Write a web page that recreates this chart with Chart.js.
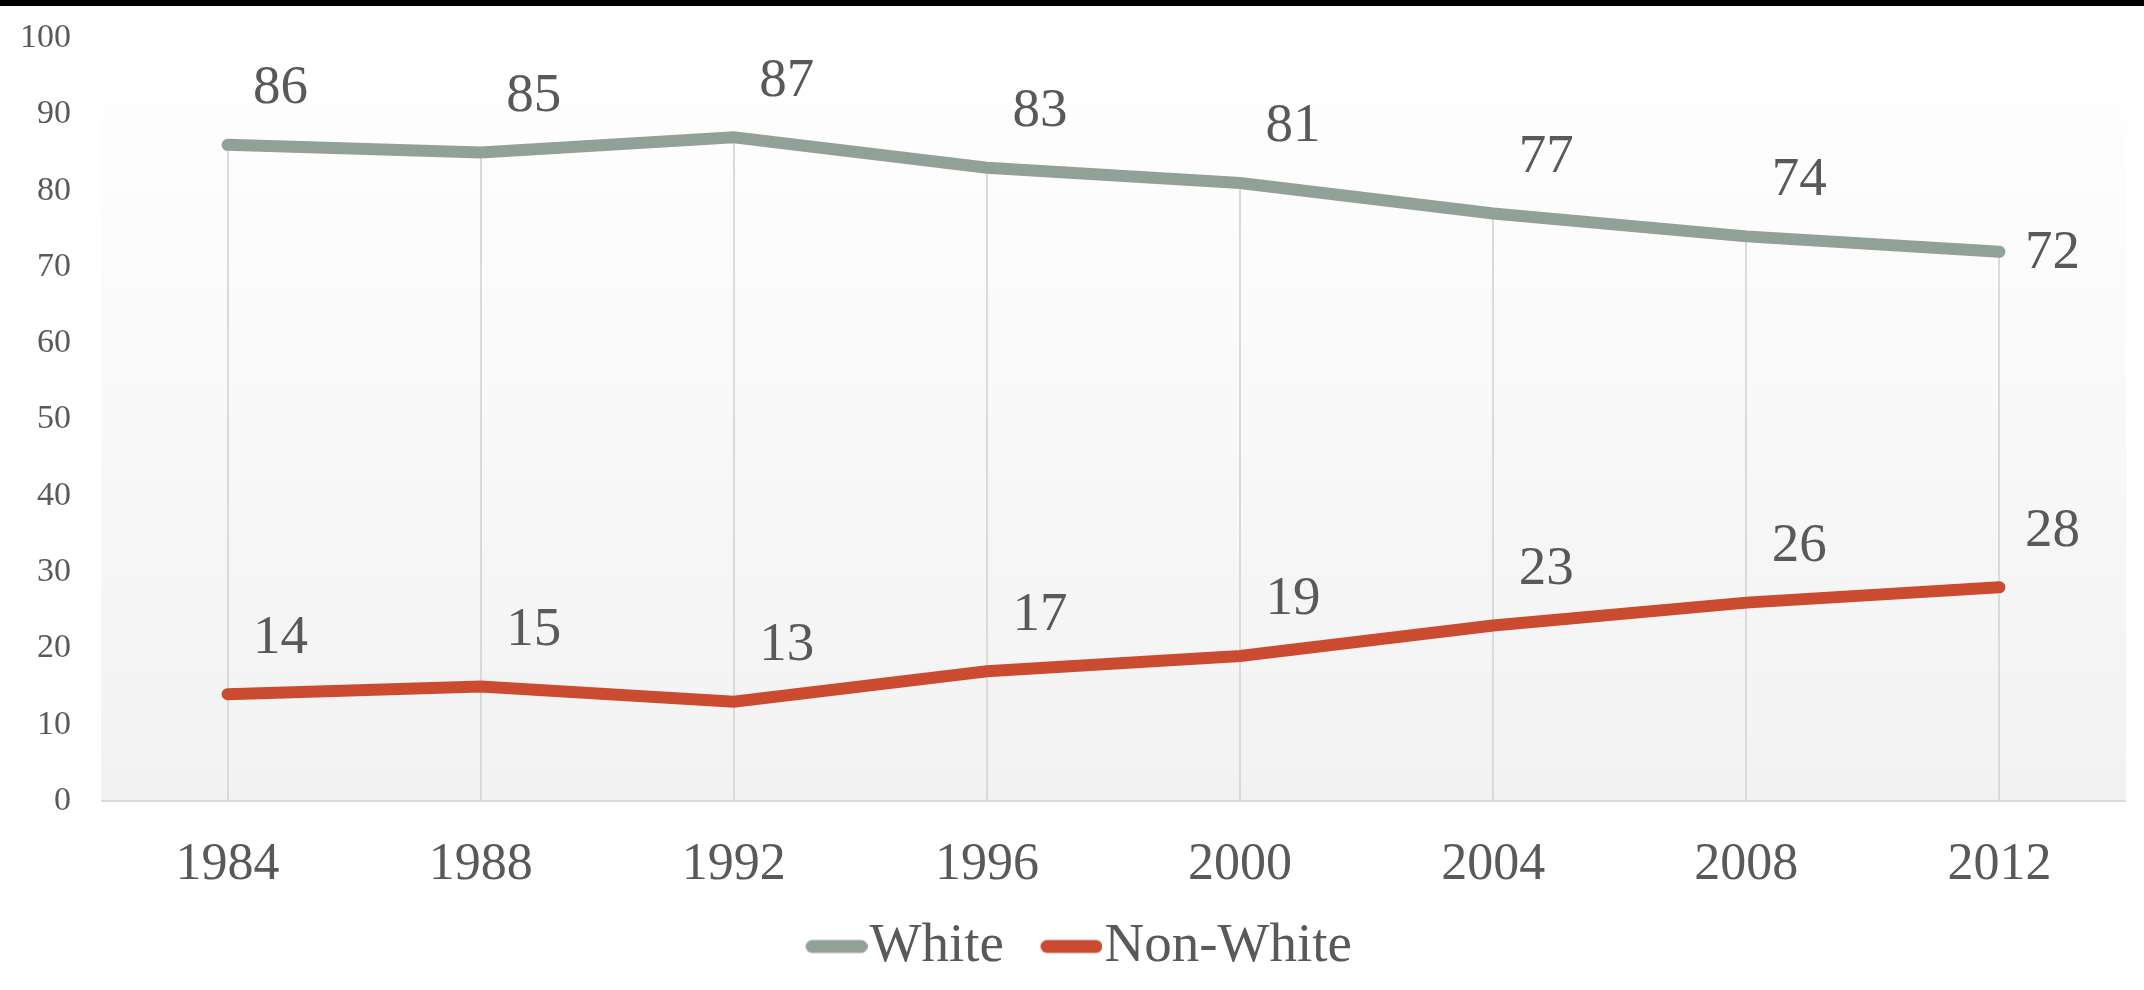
<!DOCTYPE html>
<html>
<head>
<meta charset="utf-8">
<script src="https://cdn.jsdelivr.net/npm/chart.js@4/dist/chart.umd.min.js"></script>
<style>
  html, body { margin: 0; padding: 0; background: #fff; }
  #wrap { position: relative; width: 2144px; height: 990px; }
  #topbar { position: absolute; left: 0; top: 0; width: 2144px; height: 6px; background: #000; }
</style>
</head>
<body>
<div id="wrap">
  <canvas id="chart1" width="2144" height="990"></canvas>
  <div id="topbar"></div>
</div>
<script>
// data
var years = ["1984", "1988", "1992", "1996", "2000", "2004", "2008", "2012"];
var whiteShare = [86, 85, 87, 83, 81, 77, 74, 72];
var nonWhiteShare = [14, 15, 13, 17, 19, 23, 26, 28];
var seriesNames = ["White", "Non-White"];
var yTicks = [0, 10, 20, 30, 40, 50, 60, 70, 80, 90, 100];

var whiteColor = "#91a197";
var redColor = "#cb4b30";
var textColor = "#595959";
var fontName = "'Liberation Serif', 'DejaVu Serif', serif";

// line swatch for the legend (transparent strip on the left to nudge it)
function legendSwatch(color) {
  var c = document.createElement("canvas");
  c.width = 98; c.height = 16;
  var g = c.getContext("2d");
  g.strokeStyle = color;
  g.lineWidth = 13;
  g.lineCap = "round";
  g.beginPath();
  g.moveTo(42.5, 8);
  g.lineTo(91.5, 8);
  g.stroke();
  return c;
}

// grey gradient behind the plot + drop lines
var backPlugin = {
  id: "backPlugin",
  beforeDatasetsDraw: function(chart) {
    var ctx = chart.ctx, a = chart.chartArea;
    var xs = chart.scales.x, ys = chart.scales.y;
    ctx.save();
    var grad = ctx.createLinearGradient(0, a.top, 0, a.bottom);
    grad.addColorStop(0, "#ffffff");
    grad.addColorStop(1, "#f2f2f2");
    ctx.fillStyle = grad;
    ctx.fillRect(a.left, a.top, a.right - a.left, a.bottom - a.top);
    // drop lines from the top series down to the axis
    ctx.strokeStyle = "#dadada";
    ctx.lineWidth = 2;
    years.forEach(function(y, i) {
      var top = Math.max(whiteShare[i], nonWhiteShare[i]);
      var px = Math.round(xs.getPixelForValue(i));
      ctx.beginPath();
      ctx.moveTo(px, ys.getPixelForValue(top));
      ctx.lineTo(px, a.bottom);
      ctx.stroke();
    });
    // bottom axis line
    ctx.beginPath();
    ctx.moveTo(a.left, a.bottom);
    ctx.lineTo(a.right, a.bottom);
    ctx.stroke();
    ctx.restore();
  }
};

// value labels, up and right of each point
var labelPlugin = {
  id: "labelPlugin",
  afterDatasetsDraw: function(chart) {
    var ctx = chart.ctx;
    ctx.save();
    ctx.fillStyle = textColor;
    ctx.font = "55px " + fontName;
    ctx.textAlign = "center";
    ctx.textBaseline = "middle";
    chart.data.datasets.forEach(function(ds, d) {
      var meta = chart.getDatasetMeta(d);
      meta.data.forEach(function(pt, i) {
        var dx = 53, dy = -56;
        if (d == 0 && i == meta.data.length - 1) { dy = 2; }
        ctx.fillText(String(ds.data[i]), pt.x + dx, pt.y + dy);
      });
    });
    ctx.restore();
  }
};

var config = {
  type: "line",
  data: {
    labels: years,
    datasets: [{
      label: seriesNames[0],
      data: whiteShare,
      borderColor: whiteColor,
      backgroundColor: whiteColor,
      borderWidth: 12,
      borderCapStyle: "round",
      pointRadius: 0,
      pointStyle: legendSwatch(whiteColor),
      tension: 0
    }, {
      label: seriesNames[1],
      data: nonWhiteShare,
      borderColor: redColor,
      backgroundColor: redColor,
      borderWidth: 12,
      borderCapStyle: "round",
      pointRadius: 0,
      pointStyle: legendSwatch(redColor),
      tension: 0
    }]
  },
  options: {
    responsive: false,
    animation: false,
    layout: { padding: { top: 0, left: 21, right: 18, bottom: 6 } },
    scales: {
      x: {
        offset: true,
        grid: { display: false, drawTicks: false },
        border: { display: false },
        ticks: { color: textColor, font: { family: fontName, size: 52 }, padding: 33 },
        afterFit: function(axis) { axis.height = 92; }
      },
      y: {
        min: 0,
        max: 100,
        afterBuildTicks: function(axis) {
          axis.ticks = yTicks.map(function(v) { return { value: v }; });
        },
        grid: { display: false, drawTicks: false },
        border: { display: false },
        ticks: { color: textColor, font: { family: fontName, size: 34 }, padding: 30 },
        afterFit: function(axis) {
          axis.width = 80;
          axis.paddingTop = 38;
          axis.paddingBottom = 0;
        }
      }
    },
    plugins: {
      legend: {
        position: "bottom",
        labels: {
          usePointStyle: true,
          pointStyleWidth: 47,
          boxHeight: 16,
          color: textColor,
          font: { family: fontName, size: 55 },
          padding: 26
        }
      },
      tooltip: { enabled: false }
    }
  },
  plugins: [backPlugin, labelPlugin]
};

var ctx1 = document.getElementById("chart1");
var myChart = new Chart(ctx1, config);
</script>
</body>
</html>
